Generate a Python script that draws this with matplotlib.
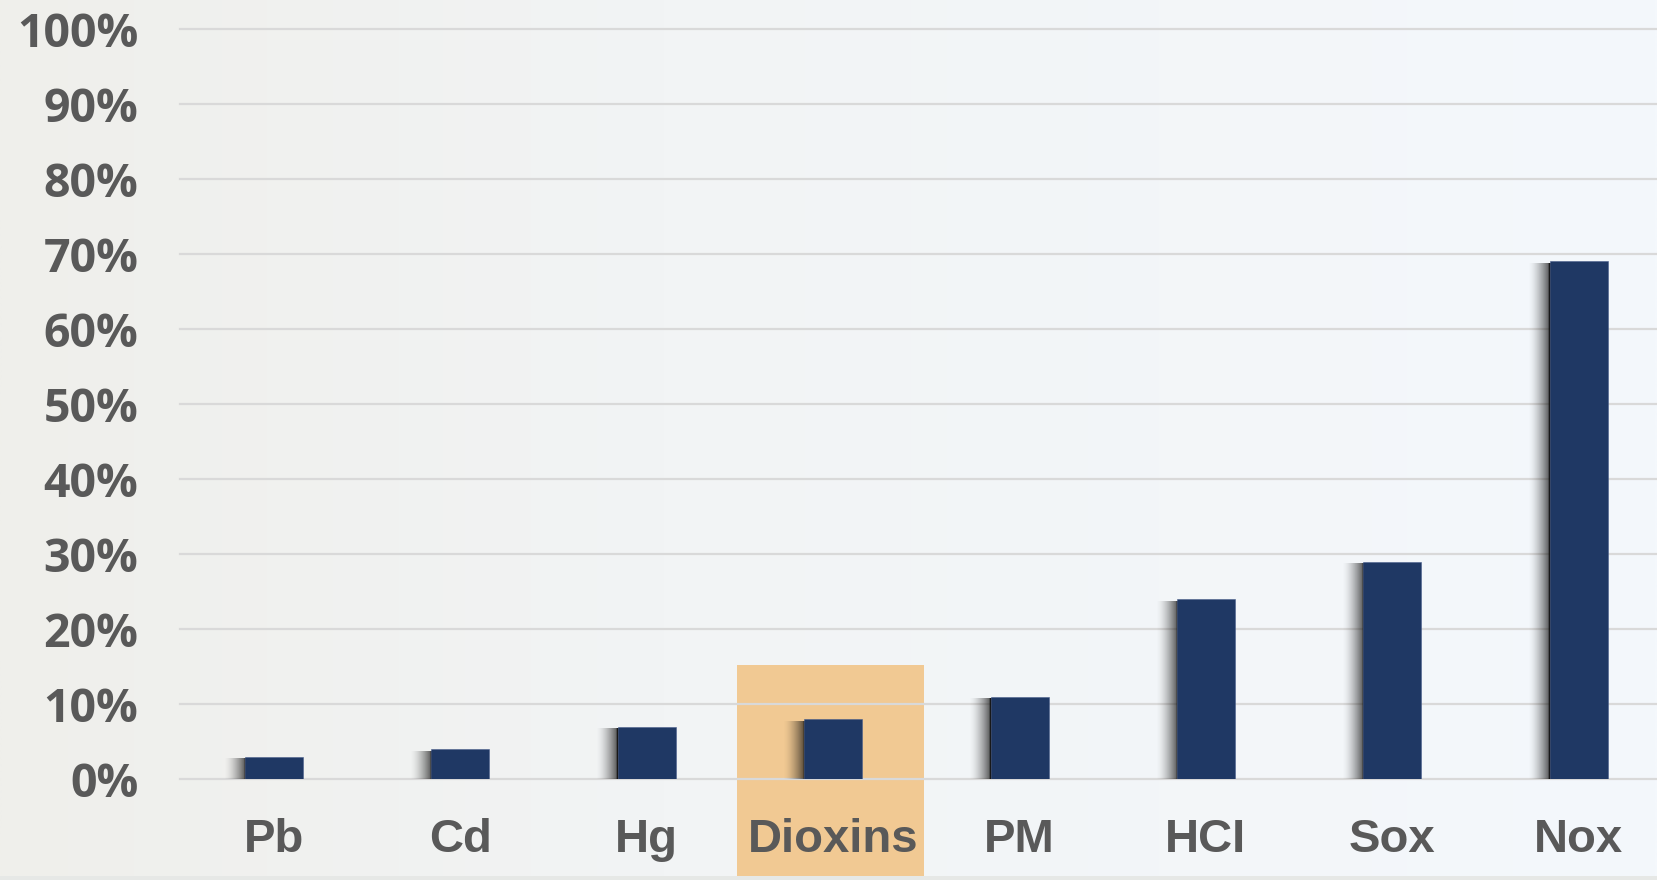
import numpy as np
import matplotlib
matplotlib.use("Agg")
import matplotlib.pyplot as plt
from matplotlib.patches import Rectangle
from matplotlib.colors import to_rgb

pollutants = ["Pb", "Cd", "Hg", "Dioxins", "PM", "HCI", "Sox", "Nox"]
shares = [3, 4, 7, 8, 11, 24, 29, 69]
y_ticks = [0, 10, 20, 30, 40, 50, 60, 70, 80, 90, 100]
y_tick_labels = [f"{v}%" for v in y_ticks]
highlight = "Dioxins"

BAR_COLOR = "#1f3864"
TEXT_COLOR = "#595959"
GRID_COLOR = "#d9d9d9"
HIGHLIGHT_COLOR = "#f1c993"

W, H, DPI = 1657, 880, 100
fig = plt.figure(figsize=(W / DPI, H / DPI), dpi=DPI)

# soft background: warm grey on the left fading into a pale blue
bg = fig.add_axes([0, 0, 1, 1], zorder=-10)
bg.axis("off")
left_c = np.array(to_rgb("#efefeb"))
mid_c = np.array(to_rgb("#f2f4f5"))
right_c = np.array(to_rgb("#f4f8fc"))
t = np.linspace(0, 1, 400)
grad = np.where(t[:, None] < 0.4,
                left_c + (mid_c - left_c) * (t[:, None] / 0.4),
                mid_c + (right_c - mid_c) * ((t[:, None] - 0.4) / 0.6))
img = np.repeat(grad[None, :, :], 2, axis=0)
bg.imshow(img, aspect="auto", extent=[0, 1, 0, 1], interpolation="bilinear")
bg.add_patch(Rectangle((0, 0), 1, 4 / H, color="#e6e8e6", lw=0))
bg.set_xlim(0, 1)
bg.set_ylim(0, 1)

ax = fig.add_axes([180 / W, (H - 779) / H, 1 - 180 / W, 750 / H])
ax.patch.set_alpha(0)
x = np.arange(len(pollutants))

for v in y_ticks:
    ax.axhline(v, color=GRID_COLOR, lw=1.6, zorder=1, clip_on=False)

# highlighted category
hi = pollutants.index(highlight)
ax.add_patch(Rectangle((hi - 0.515, -12.9), 1.0, 28.1, color=HIGHLIGHT_COLOR,
                       lw=0, zorder=0, clip_on=False))

bar_w = 0.311
ax.bar(x, shares, width=bar_w, color=BAR_COLOR, edgecolor="#4a5f8c",
       linewidth=0.4, zorder=3)

# drop shadow on the left side of every bar
shadow_w = 0.115
n = 60
alpha = np.linspace(0, 1, n) ** 1.6 * 0.75
alpha[-6:] = 0.95
shade = np.zeros((1, n, 4))
shade[..., :3] = 0.05
shade[..., 3] = alpha
for xi, v in zip(x, shares):
    x0 = xi - bar_w / 2
    ax.imshow(shade, aspect="auto", interpolation="bilinear",
              extent=[x0 - shadow_w, x0 + 0.004, 0, v - 0.3], zorder=2)
ax.set_xlim(-0.504, 7.42)
ax.set_ylim(0, 100)

ax.set_yticks(y_ticks)
ax.set_yticklabels(y_tick_labels, family="Open Sans", fontweight="bold",
                   fontsize=33.5, color=TEXT_COLOR)
ax.set_xticks(x)
ax.set_xticklabels(pollutants, family="Liberation Sans", fontweight="bold",
                   fontsize=34, color=TEXT_COLOR)
ax.tick_params(axis="y", length=0, pad=30)
ax.tick_params(axis="x", length=0, pad=28)
for s in ax.spines.values():
    s.set_visible(False)

fig.savefig("out.png", dpi=DPI)
